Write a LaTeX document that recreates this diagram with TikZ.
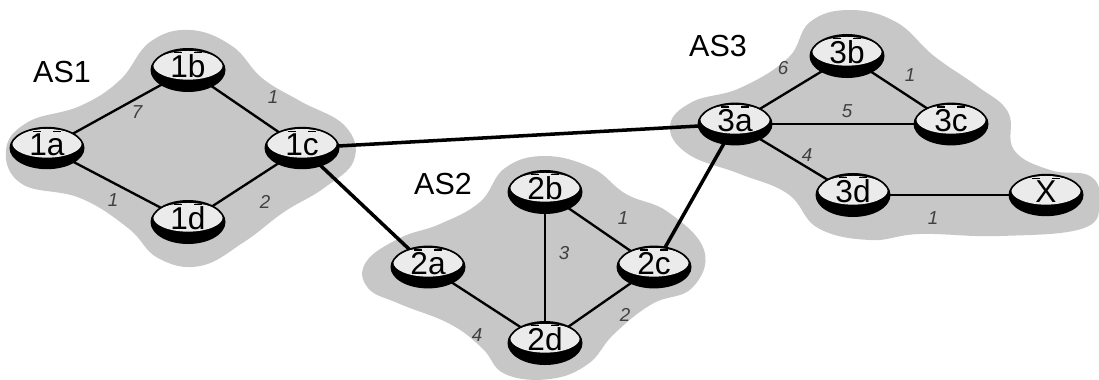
\documentclass[tikz,border=0pt]{standalone}
\usepackage{fontspec}
\setmainfont{Liberation Sans}
\usetikzlibrary{shapes.geometric}
\tikzset{
  blob/.style={fill=black!22, draw=none},
  router/.style={ellipse, draw=black, line width=1.4pt, minimum width=2.2cm, minimum height=1.1cm,
    inner sep=0pt, font=\fontsize{27}{27}\selectfont, text depth=6pt,
    path picture={
      \fill[black] (path picture bounding box.south west) rectangle (path picture bounding box.north east);
      \fill[black!8] ([yshift=4pt]path picture bounding box.center) ellipse (1.04cm and 0.43cm);
      \draw[line width=1pt] ([xshift=-12pt,yshift=-3pt]path picture bounding box.north) -- ++(7pt,0);
      \draw[line width=1pt] ([xshift=5pt,yshift=-3pt]path picture bounding box.north) -- ++(7pt,0);
    }},
  intra/.style={line width=2pt},
  inter/.style={line width=3pt},
  weight/.style={font=\itshape\fontsize{16}{16}\selectfont, text=black!75, inner sep=1pt},
  aslabel/.style={font=\fontsize{26}{26}\selectfont}
}
\begin{document}
\begin{tikzpicture}[x=0.03cm, y=-0.03cm]
\useasboundingbox (0,0) rectangle (1099,379);

% autonomous system regions
\fill[blob] plot[smooth cycle, tension=0.7] coordinates {(6,150) (28,122) (80,106) (120,80) (150,42) (190,30) (232,46) (262,78) (300,101) (345,126) (354,160) (324,188) (284,212) (244,242) (200,266) (158,258) (128,228) (80,198) (22,184)};
\fill[blob] plot[smooth cycle, tension=0.7] coordinates {(366,262) (400,238) (440,224) (480,202) (505,168) (545,156) (592,168) (626,194) (668,212) (704,250) (692,288) (652,304) (614,334) (588,364) (550,379) (505,374) (482,348) (450,324) (400,304) (368,288)};
\fill[blob] plot[smooth cycle, tension=0.7] coordinates {(670,126) (692,102) (740,88) (788,58) (810,22) (850,10) (896,22) (934,56) (977,86) (1008,112) (1014,150) (1050,170) (1090,176) (1099,200) (1084,228) (1000,236) (920,234) (870,240) (818,228) (788,194) (740,174) (688,154)};

% AS labels
\node[aslabel] (as1) at (62,72) {AS1};
\node[aslabel] (as2) at (443,184) {AS2};
\node[aslabel] (as3) at (718,46) {AS3};

% router positions
\coordinate (1a) at (47,148);
\coordinate (1b) at (188,70);
\coordinate (1c) at (302,148);
\coordinate (1d) at (188,222);
\coordinate (2a) at (428,267);
\coordinate (2b) at (545,192);
\coordinate (2c) at (654,267);
\coordinate (2d) at (545,343);
\coordinate (3a) at (735,124);
\coordinate (3b) at (847,56);
\coordinate (3c) at (951,124);
\coordinate (3d) at (853,195);
\coordinate (X) at (1046,195);

% links inside AS1
\draw[intra] (1a) -- (1b);
\draw[intra] (1b) -- (1c);
\draw[intra] (1a) -- (1d);
\draw[intra] (1d) -- (1c);
% links inside AS2
\draw[intra] (2a) -- (2d);
\draw[intra] (2b) -- (2d);
\draw[intra] (2b) -- (2c);
\draw[intra] (2c) -- (2d);
% links inside AS3
\draw[intra] (3a) -- (3b);
\draw[intra] (3b) -- (3c);
\draw[intra] (3a) -- (3c);
\draw[intra] (3a) -- (3d);
\draw[intra] (3d) -- (X);
% links between ASes
\draw[inter] (1c) -- (3a);
\draw[inter] (1c) -- (2a);
\draw[inter] (2c) -- (3a);

% routers on top of the links
\foreach \r in {1a,1b,1c,1d,2a,2b,2c,2d,3a,3b,3c,3d,X}{
  \node[router] (r\r) at (\r) {\r};
}

% link costs
\node[weight] (w1) at (137,112) {7};
\node[weight] (w2) at (273,97) {1};
\node[weight] (w3) at (113,200) {1};
\node[weight] (w4) at (265,202) {2};
\node[weight] (w5) at (623,218) {1};
\node[weight] (w6) at (564,253) {3};
\node[weight] (w7) at (477,335) {4};
\node[weight] (w8) at (625,315) {2};
\node[weight] (w9) at (783,68) {6};
\node[weight] (w10) at (910,75) {1};
\node[weight] (w11) at (847,111) {5};
\node[weight] (w12) at (807,155) {4};
\node[weight] (w13) at (933,218) {1};
\end{tikzpicture}
\end{document}
